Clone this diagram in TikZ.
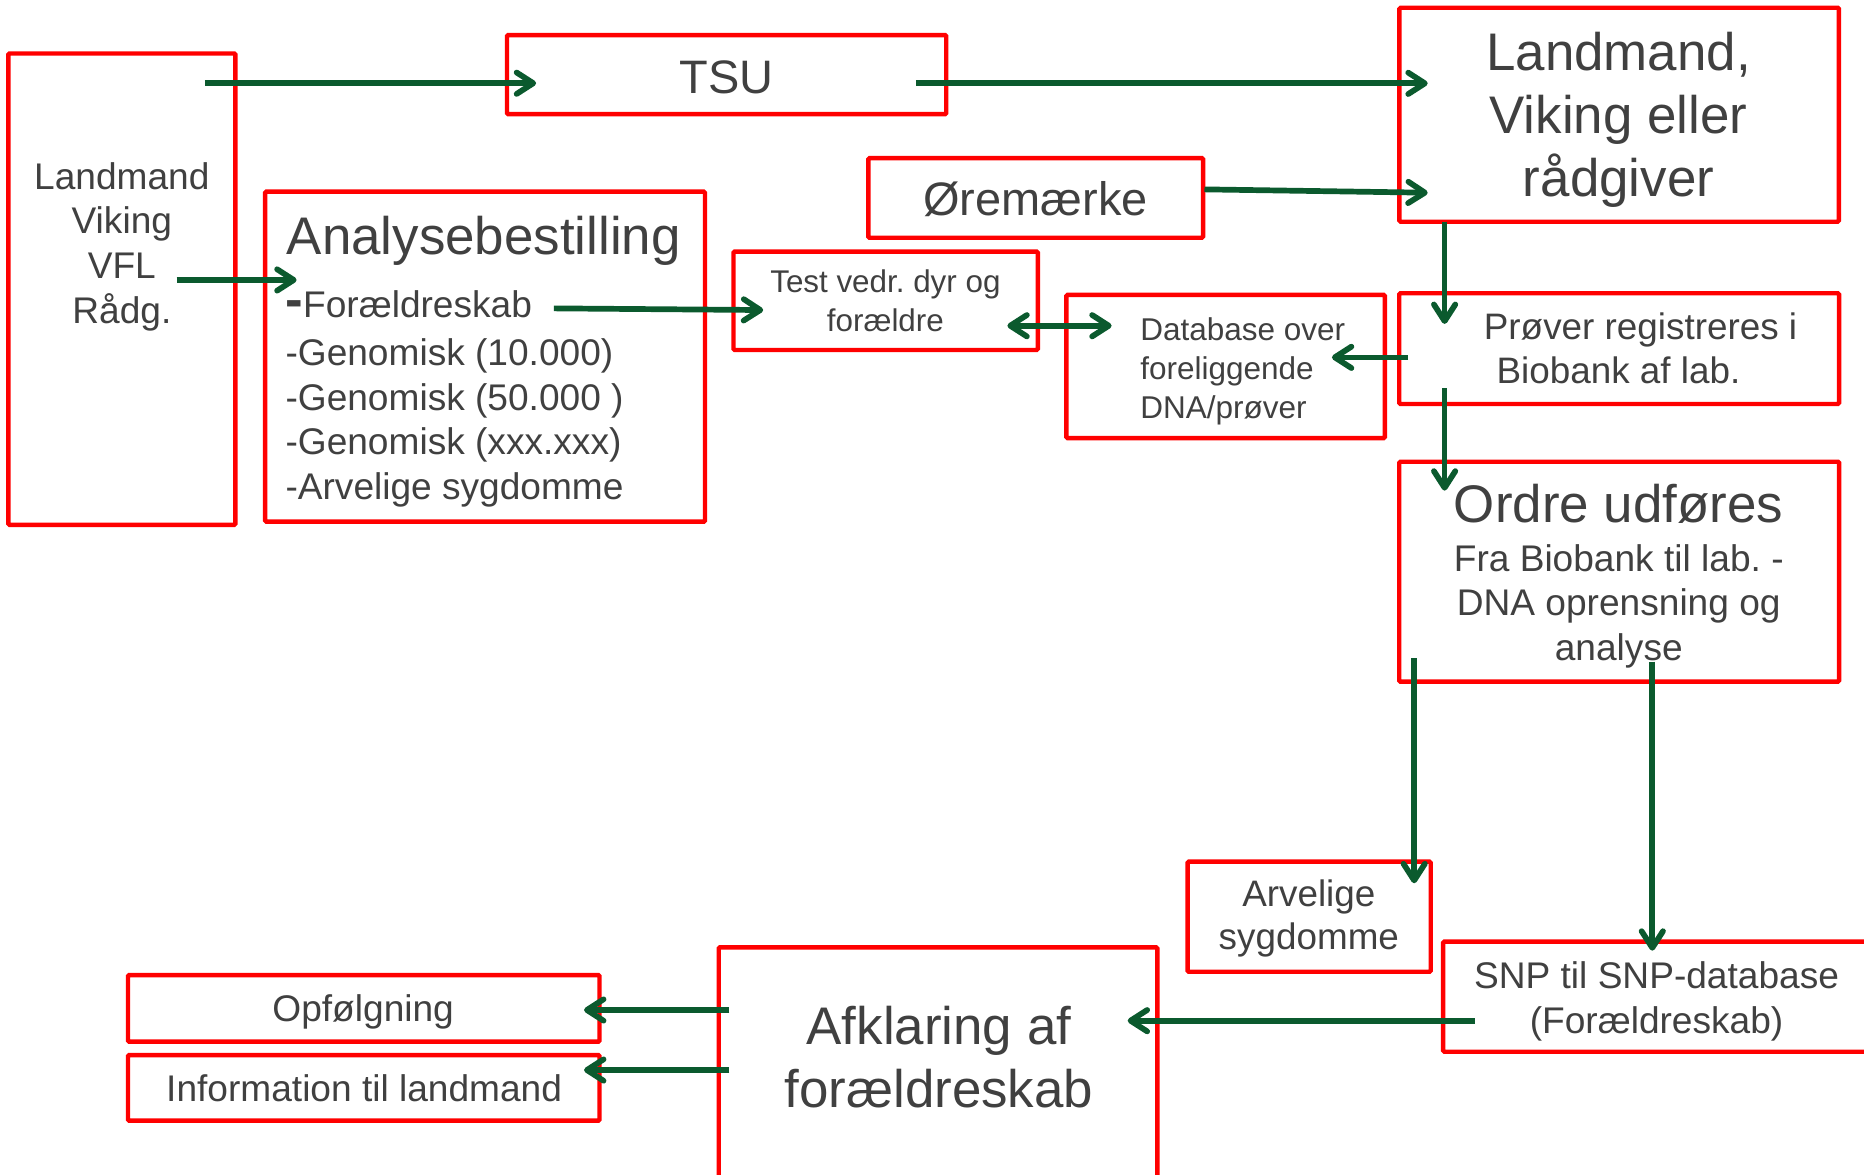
\documentclass[tikz,border=0pt]{standalone}
\usepackage{fontspec}
\setmainfont{Liberation Sans}
\usetikzlibrary{arrows.meta,fit}
\definecolor{boxred}{RGB}{255,0,0}
\definecolor{arrgreen}{RGB}{11,90,46}
\definecolor{txtgray}{RGB}{64,64,64}
\newcommand\zs{\rule[-0.25em]{0pt}{1em}}
\newcommand\zfont[2]{\fontsize{#1}{#2}\selectfont}
\frenchspacing
\begin{document}
\begin{tikzpicture}[x=1pt,y=-1pt,
  box/.style={draw=boxred,line width=3.7pt,inner sep=0pt,rounded corners=1pt},
  txt/.style={text=txtgray,inner sep=0pt},
  tipS/.tip={Straight Barb[length=14pt,width=18pt,round]},
  arr/.style={draw=arrgreen,line width=4.8pt,-tipS},
  darr/.style={draw=arrgreen,line width=4.8pt,tipS-tipS}]
\useasboundingbox (0,0) rectangle (1568,988.4);

% boxes
\node[box,fit={(7,45) (198,441.5)}] (lbox) {};
\node[box,fit={(426.5,29.5) (796,96)}] (tsu) {};
\node[box,fit={(1177.2,6.5) (1546.8,186.5)}] (lvr) {};
\node[box,fit={(730.5,133) (1012,200)}] (ore) {};
\node[box,fit={(223,161.2) (593,438.8)}] (ana) {};
\node[box,fit={(617,211.7) (873,294.4)}] (test) {};
\node[box,fit={(897,248.1) (1165,368.5)}] (db) {};
\node[box,fit={(1177,246.7) (1547,339.8)}] (prv) {};
\node[box,fit={(1177,388.4) (1547,573.4)}] (ord) {};
\node[box,fit={(999,724.8) (1203.5,817.4)}] (arv) {};
\node[box,fit={(1214,792.1) (1600,884.7)}] (snp) {};
\node[box,fit={(604.6,796.9) (973.6,1020)}] (afk) {};
\node[box,fit={(107.7,820.2) (504.3,876.2)}] (opf) {};
\node[box,fit={(107.7,887.5) (504.3,942.7)}] (inf) {};

% texts
\node[txt,align=center,font=\zfont{31.2}{37.67}] (lboxT) at (102.5,207.7)
  {\zs Landmand\\\zs Viking\\\zs VFL\\\zs Rådg.};
\node[txt,anchor=base,font=\zfont{39.5}{47}] (tsuT) at (611,78.5) {TSU};
\node[txt,align=center,font=\zfont{44.5}{53.25}] (lvrT) at (1361.5,101.1)
  {\zs Landmand,\\\zs Viking eller\\\zs rådgiver};
\node[txt,anchor=base,font=\zfont{39.5}{47}] (oreT) at (871,181) {Øremærke};
\node[txt,anchor=base west,font=\zfont{44.5}{53}] (anaT) at (241,214) {Analysebestilling};
\node[txt,anchor=base west,font=\zfont{31.2}{37.5}] (anaL1) at (240,267.2)
  {{\zfont{44.5}{50}\bfseries -}Forældreskab};
\node[txt,anchor=west,align=left,font=\zfont{31.2}{37.47}] (anaL2) at (240,356)
  {\zs -Genomisk (10.000)\\\zs -Genomisk (50.000 )\\\zs -Genomisk (xxx.xxx)\\\zs -Arvelige sygdomme};
\node[txt,align=center,font=\zfont{26.4}{32.8}] (testT) at (744.8,256)
  {\zs Test vedr. dyr og\\\zs forældre};
\node[txt,anchor=west,align=left,font=\zfont{26.5}{33}] (dbT) at (959,312.7)
  {\zs Database over\\\zs foreliggende\\\zs DNA/prøver};
\node[txt,align=center,font=\zfont{31}{37}] (prvT) at (1361.5,296.75)
  {\zs\kern37pt Prøver registreres i\\\zs Biobank af lab.};
\node[txt,anchor=base,font=\zfont{44.5}{53}] (ordT) at (1361.5,439.7) {Ordre udføres};
\node[txt,align=center,font=\zfont{31.2}{37.15}] (ordL) at (1361.7,510.25)
  {\zs Fra Biobank til lab. -\\\zs DNA oprensning og\\\zs analyse};
\node[txt,align=center,font=\zfont{31}{36.4}] (arvT) at (1101,773.15)
  {\zs Arvelige\\\zs sygdomme};
\node[txt,align=center,font=\zfont{31.2}{37.8}] (snpT) at (1393.5,842.5)
  {\zs SNP til SNP-database\\\zs (Forældreskab)};
\node[txt,align=center,font=\zfont{44.5}{53.2}] (afkT) at (789.8,894)
  {\zs Afklaring af\\\zs forældreskab};
\node[txt,anchor=base,font=\zfont{31.2}{37}] (opfT) at (305.5,859.4) {Opfølgning};
\node[txt,anchor=base,font=\zfont{31.2}{37}] (infT) at (306.3,926.7) {Information til landmand};

% connector end points
\coordinate (lbox-o1) at (172.4,70);
\coordinate (tsu-i) at (451,70);
\coordinate (tsu-o) at (770.5,70.1);
\coordinate (lvr-i1) at (1201,70.1);
\coordinate (ore-o) at (1013.2,159.3);
\coordinate (lvr-i2) at (1201,162.1);
\coordinate (lbox-o2) at (148.6,235.5);
\coordinate (ana-i) at (249.5,235.5);
\coordinate (ana-o) at (466,259.4);
\coordinate (test-i) at (642,260.8);
\coordinate (test-d) at (847.4,274);
\coordinate (db-d) at (935.1,274);
\coordinate (lvr-o) at (1215.2,186.5);
\coordinate (prv-i) at (1215.2,272.5);
\coordinate (prv-o1) at (1184.6,300.6);
\coordinate (db-i) at (1120.4,300.6);
\coordinate (prv-o2) at (1215.2,326.6);
\coordinate (ord-i) at (1215.2,412.7);
\coordinate (ord-o1) at (1189.6,553.8);
\coordinate (arv-i) at (1189.6,743);
\coordinate (ord-o2) at (1389.9,556.6);
\coordinate (snp-i) at (1389.9,799.7);
\coordinate (snp-o) at (1240.7,858.6);
\coordinate (afk-i) at (948.6,858.6);
\coordinate (afk-o1) at (613.5,849.6);
\coordinate (opf-i) at (491.3,849.6);
\coordinate (afk-o2) at (613.5,900.1);
\coordinate (inf-i) at (491.3,900.1);

% connectors
\draw[arr] (lbox-o1) -- (tsu-i);
\draw[arr] (tsu-o) -- (lvr-i1);
\draw[arr] (ore-o) -- (lvr-i2);
\draw[arr] (lbox-o2) -- (ana-i);
\draw[arr] (ana-o) -- (test-i);
\draw[darr] (test-d) -- (db-d);
\draw[arr] (lvr-o) -- (prv-i);
\draw[arr] (prv-o1) -- (db-i);
\draw[arr] (prv-o2) -- (ord-i);
\draw[arr] (ord-o1) -- (arv-i);
\draw[arr] (ord-o2) -- (snp-i);
\draw[arr] (snp-o) -- (afk-i);
\draw[arr] (afk-o1) -- (opf-i);
\draw[arr] (afk-o2) -- (inf-i);
\end{tikzpicture}
\end{document}
